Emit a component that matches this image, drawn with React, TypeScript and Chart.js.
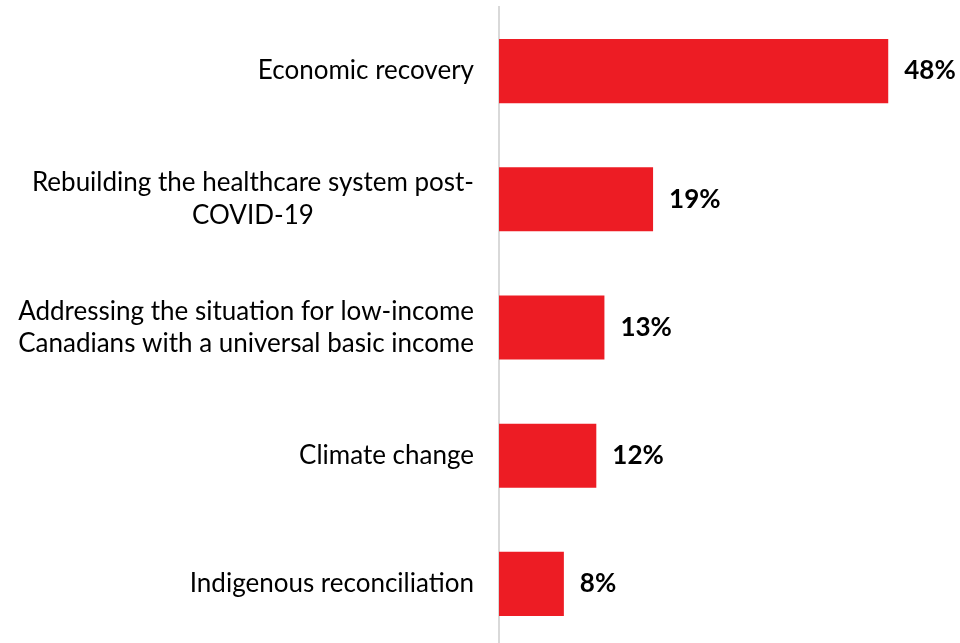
import React, { useEffect, useRef } from "react";
import { Chart, registerables } from "chart.js";

Chart.register(...registerables);

const categories: string[][] = [
  ["Economic recovery"],
  ["Rebuilding the healthcare system post-", "COVID-19"],
  ["Addressing the situation for low-income", "Canadians with a universal basic income"],
  ["Climate change"],
  ["Indigenous reconciliation"],
];
const values: number[] = [48, 19, 13, 12, 8];
const valueLabels: string[] = ["48%", "19%", "13%", "12%", "8%"];

const FONT = "Lato";
const LABEL_SIZE = 26;
const LINE_H = 32.5;

const labelPlugin = {
  id: "customLabels",
  afterDraw(chart: any) {
    const ctx = chart.ctx;
    const meta = chart.getDatasetMeta(0);
    const yScale = chart.scales.y;
    ctx.save();
    // category labels
    ctx.font = `${LABEL_SIZE}px ${FONT}`;
    ctx.fillStyle = "#000000";
    ctx.textBaseline = "middle";
    ctx.textAlign = "center";
    const rightEdge = chart.chartArea.left - 25;
    categories.forEach((lines, i) => {
      const yc = yScale.getPixelForValue(i);
      const widest = Math.max(...lines.map((l) => ctx.measureText(l).width));
      const cx = rightEdge - widest / 2;
      const startY = yc - ((lines.length - 1) * LINE_H) / 2;
      lines.forEach((l, j) => ctx.fillText(l, cx, startY + j * LINE_H));
    });
    // value labels
    ctx.font = `bold ${LABEL_SIZE}px ${FONT}`;
    ctx.textAlign = "left";
    meta.data.forEach((bar: any, i: number) => {
      ctx.fillText(valueLabels[i], bar.x + 16, bar.y);
    });
    ctx.restore();
  },
};

export default function App() {
  const ref = useRef<HTMLCanvasElement | null>(null);
  useEffect(() => {
    if (!ref.current) return;
    const chart = new Chart(ref.current, {
      type: "bar",
      data: {
        labels: categories.map((c) => c.join(" ")),
        datasets: [
          {
            data: values,
            backgroundColor: "#ED1C24",
            borderWidth: 0,
            categoryPercentage: 1,
            barPercentage: 0.5,
          },
        ],
      },
      options: {
        indexAxis: "y",
        animation: false,
        responsive: true,
        maintainAspectRatio: false,
        layout: { padding: { top: 7, bottom: 2, right: 15, left: 0 } },
        plugins: {
          legend: { display: false },
          tooltip: { enabled: false },
        },
        scales: {
          x: {
            min: 0,
            max: 55,
            display: false,
            grid: { display: false },
          },
          y: {
            ticks: { display: false },
            grid: { display: false },
            border: { display: true, color: "#D9D9D9", width: 2 },
            afterFit(scale: any) {
              scale.width = 499;
            },
          },
        },
      },
      plugins: [labelPlugin],
    });
    return () => chart.destroy();
  }, []);
  return (
    <div style={{ position: "fixed", left: 0, top: 0, width: 960, height: 650, background: "#fff" }}>
      <canvas ref={ref} />
    </div>
  );
}
